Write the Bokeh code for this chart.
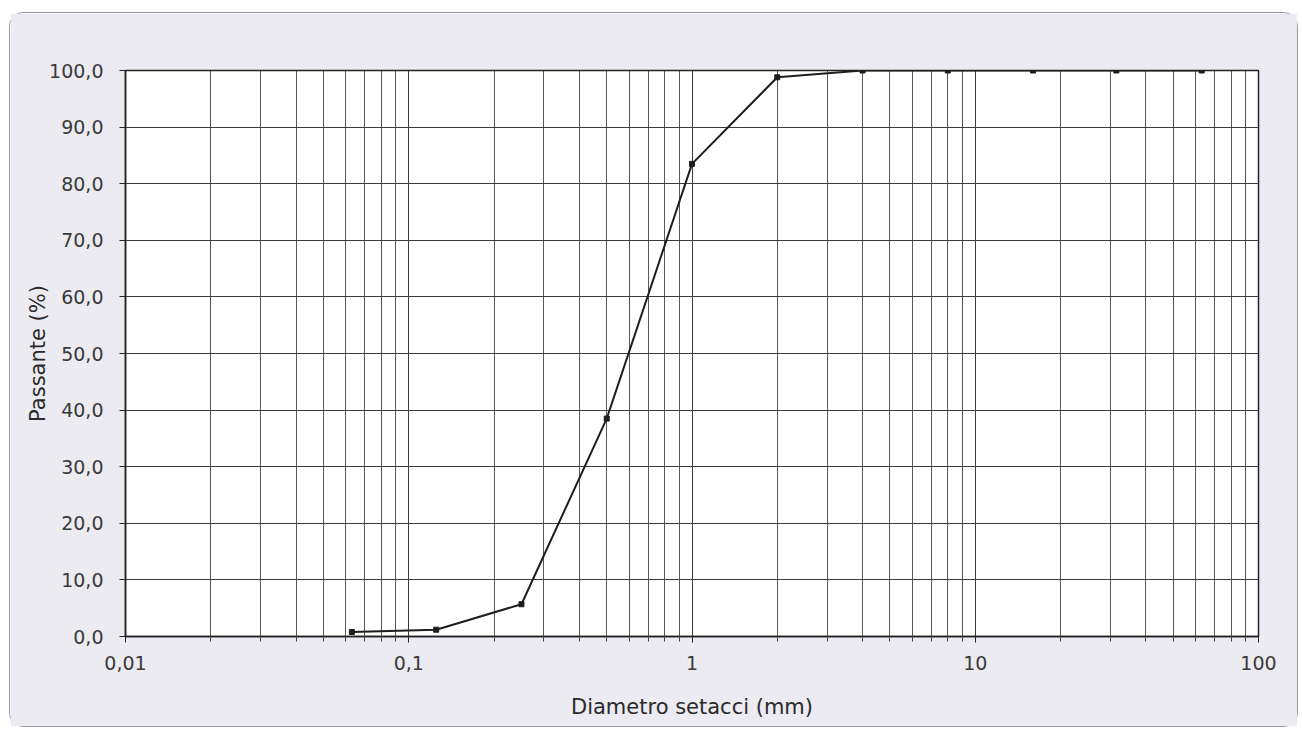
from bokeh.plotting import figure
from bokeh.models import FixedTicker, ColumnDataSource
from bokeh.embed import file_html
from bokeh.resources import INLINE

# Data
diam = [0.063, 0.125, 0.25, 0.5, 1.0, 2.0, 4.0, 8.0, 16.0, 31.5, 63.0]
passante = [0.8, 1.2, 5.7, 38.5, 83.5, 98.8, 100.0, 100.0, 100.0, 100.0, 100.0]
x_major = [0.01, 0.1, 1, 10, 100]
x_labels = ["0,01", "0,1", "1", "10", "100"]
y_major = [0, 10, 20, 30, 40, 50, 60, 70, 80, 90, 100]
y_labels = ["0,0", "10,0", "20,0", "30,0", "40,0", "50,0", "60,0", "70,0", "80,0", "90,0", "100,0"]

x_minor = []
for d in [0.01, 0.1, 1, 10]:
    for m in range(2, 10):
        x_minor.append(round(d * m, 6))

p = figure(x_axis_type="log", x_range=(0.01, 100), y_range=(0, 100),
           frame_width=1133, frame_height=566,
           min_border_left=115, min_border_top=57, min_border_right=39, min_border_bottom=90,
           output_backend="svg", toolbar_location=None,
           background_fill_color="white", border_fill_color="#ebebf1")
p.styles = {"border": "1.5px solid #9a9aa0", "border-radius": "14px",
            "margin-left": "9px", "margin-top": "12px"}

grid_col = "#3c3c3c"
p.xaxis.ticker = FixedTicker(ticks=x_major, minor_ticks=x_minor)
p.xaxis.major_label_overrides = {t: l for t, l in zip(x_major, x_labels)}
p.yaxis.ticker = FixedTicker(ticks=y_major)
p.yaxis.major_label_overrides = {t: l for t, l in zip(y_major, y_labels)}

p.xgrid.grid_line_color = grid_col
p.xgrid.minor_grid_line_color = grid_col
p.xgrid.grid_line_width = 1
p.xgrid.minor_grid_line_width = 1
p.xgrid.minor_grid_line_alpha = 0.85
p.ygrid.grid_line_color = grid_col
p.ygrid.grid_line_width = 1
p.ygrid.minor_grid_line_color = None

for ax in [p.xaxis, p.yaxis]:
    ax.axis_line_color = "#222222"
    ax.axis_line_width = 1.5
    ax.major_tick_line_color = "#222222"
    ax.minor_tick_line_color = "#444444"
    ax.major_tick_in = 0
    ax.major_tick_out = 6
    ax.minor_tick_in = 0
    ax.minor_tick_out = 5
    ax.major_label_text_font = "DejaVu Sans"
    ax.major_label_text_font_size = "19px"
    ax.major_label_text_color = "#3a3a3a"
    ax.axis_label_text_font = "DejaVu Sans"
    ax.axis_label_text_font_size = "21px"
    ax.axis_label_text_font_style = "normal"
    ax.axis_label_text_color = "#2a2a2a"
p.yaxis.minor_tick_line_color = None
p.yaxis.major_label_standoff = 16
p.xaxis.major_label_standoff = 13
p.xaxis.axis_label = "Diametro setacci (mm)"
p.yaxis.axis_label = "Passante (%)"
p.xaxis.axis_label_standoff = 22
p.yaxis.axis_label_standoff = -4

p.outline_line_color = "#222222"
p.outline_line_width = 1.5

src = ColumnDataSource(dict(x=diam, y=passante))
p.line("x", "y", source=src, line_color="#1e1e1e", line_width=2)
p.scatter("x", "y", source=src, marker="square", size=5, color="#1e1e1e")

open("out.html", "w").write(file_html(p, INLINE))
